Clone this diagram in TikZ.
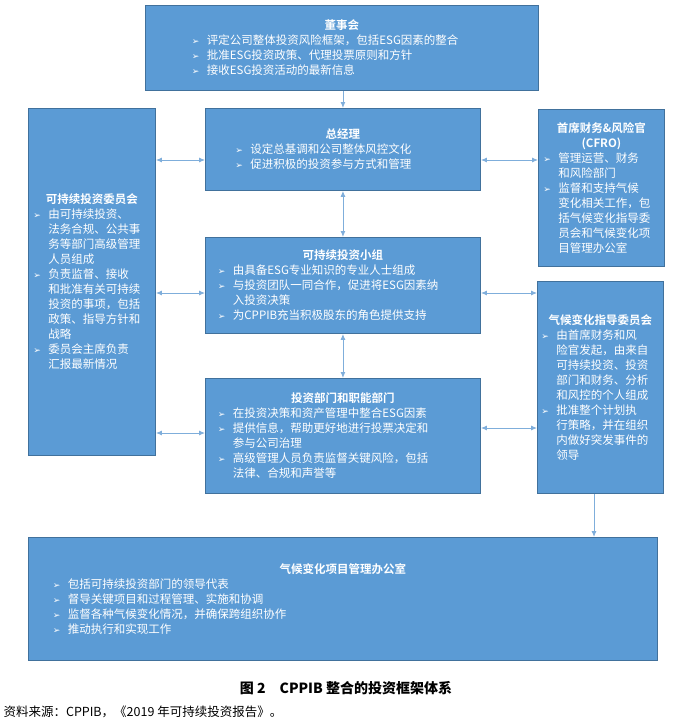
\documentclass[tikz,border=0pt]{standalone}
\usepackage{fontspec}
\setmainfont{Liberation Serif}
\newfontfamily\cjk{Noto Sans CJK SC}
\newfontfamily\cjkb{Noto Sans CJK SC Bold}
\newfontfamily\dejavu{DejaVu Sans}
\usetikzlibrary{arrows.meta}
\definecolor{boxfill}{HTML}{5B9BD5}
\definecolor{boxline}{HTML}{41719C}
\definecolor{arrline}{HTML}{7FAEDB}
\newcommand{\bul}{\makebox[1.3em][l]{\dejavu\small ➢}}
\newcommand{\ind}{\hspace*{1.3em}}
\newcommand{\ttl}[1]{\makebox[\linewidth][c]{\cjkb #1}}
\tikzset{
  box/.style={draw=boxline, line width=0.9pt, fill=boxfill, text=white, anchor=north west,
    inner sep=2pt, align=left, font=\cjk\fontsize{11.5}{15}\selectfont},
  arr/.style={draw=arrline, line width=0.9pt, {Latex[length=6pt,width=5pt]}-{Latex[length=6pt,width=5pt]}},
  arrone/.style={draw=arrline, line width=0.9pt, -{Latex[length=6pt,width=5pt]}}
}
\begin{document}
\begin{tikzpicture}[x=1pt,y=-1pt]
\useasboundingbox (0,0) rectangle (692,723);

% boxes
\node[box, minimum width=393pt, minimum height=85pt, text width=300pt] (board) at (145,5)
 {\ttl{董事会}\\
  \bul 评定公司整体投资风险框架，包括ESG因素的整合\\
  \bul 批准ESG投资政策、代理投票原则和方针\\
  \bul 接收ESG投资活动的最新信息};
\node[box, minimum width=275pt, minimum height=82pt, text width=215pt] (gm) at (205,108)
 {\ttl{总经理}\\
  \bul 设定总基调和公司整体风控文化\\
  \bul 促进积极的投资参与方式和管理};
\node[box, minimum width=127pt, minimum height=347pt, text width=117pt] (sic) at (28,108)
 {\ttl{可持续投资委员会}\\
  \bul 由可持续投资、\\
  \ind 法务合规、公共事\\
  \ind 务等部门高级管理\\
  \ind 人员组成\\
  \bul 负责监督、接收\\
  \ind 和批准有关可持续\\
  \ind 投资的事项，包括\\
  \ind 政策、指导方针和\\
  \ind 战略\\
  \bul 委员会主席负责\\
  \ind 汇报最新情况};
\node[box, minimum width=126pt, minimum height=157pt, text width=116pt] (cfro) at (538,109)
 {\ttl{首席财务\&风险官}\\
  \ttl{(CFRO)}\\
  \bul 管理运营、财务\\
  \ind 和风险部门\\
  \bul 监督和支持气候\\
  \ind 变化相关工作，包\\
  \ind 括气候变化指导委\\
  \ind 员会和气候变化项\\
  \ind 目管理办公室};
\node[box, minimum width=275pt, minimum height=96pt, text width=250pt] (team) at (205,237)
 {\ttl{可持续投资小组}\\
  \bul 由具备ESG专业知识的专业人士组成\\
  \bul 与投资团队一同合作，促进将ESG因素纳\\
  \ind 入投资决策\\
  \bul 为CPPIB充当积极股东的角色提供支持};
\node[box, minimum width=126pt, minimum height=212pt, text width=118pt] (ccsc) at (537,281)
 {\ttl{气候变化指导委员会}\\
  \bul 由首席财务和风\\
  \ind 险官发起，由来自\\
  \ind 可持续投资、投资\\
  \ind 部门和财务、分析\\
  \ind 和风控的个人组成\\
  \bul 批准整个计划执\\
  \ind 行策略，并在组织\\
  \ind 内做好突发事件的\\
  \ind 领导};
\node[box, minimum width=275pt, minimum height=115pt, text width=250pt] (dept) at (205,378)
 {\ttl{投资部门和职能部门}\\
  \bul 在投资决策和资产管理中整合ESG因素\\
  \bul 提供信息，帮助更好地进行投票决定和\\
  \ind 参与公司治理\\
  \bul 高级管理人员负责监督关键风险，包括\\
  \ind 法律、合规和声誉等};
\node[box, minimum width=629pt, minimum height=123pt, text width=580pt] (pmo) at (28,537)
 {\ttl{气候变化项目管理办公室}\\
  \bul 包括可持续投资部门的领导代表\\
  \bul 督导关键项目和过程管理、实施和协调\\
  \bul 监督各种气候变化情况，并确保跨组织协作\\
  \bul 推动执行和实现工作};

% connectors
\draw[arrone] (board.south -| gm.north) -- (gm.north);
\draw[arr] (gm.south) -- (team.north);
\draw[arr] (team.south) -- (dept.north);
\draw[arr] (sic.east |- 0,160) -- (gm.west |- 0,160);
\draw[arr] (sic.east |- 0,293) -- (team.west |- 0,293);
\draw[arr] (sic.east |- 0,433) -- (dept.west |- 0,433);
\draw[arr] (gm.east |- 0,160) -- (cfro.west |- 0,160);
\draw[arr] (team.east |- 0,293) -- (ccsc.west |- 0,293);
\draw[arr] (dept.east |- 0,428) -- (ccsc.west |- 0,428);
\draw[arrone] (ccsc.south -| 594,0) -- (pmo.north -| 594,0);

% caption
\node[font=\bfseries\cjkb\fontsize{14}{16}\selectfont] (cap) at (346,688) {图 2\quad CPPIB 整合的投资框架体系};
\node[font=\cjk\fontsize{12.5}{14}\selectfont, anchor=west] (src) at (0,712) {资料来源：CPPIB，《2019 年可持续投资报告》。};
\end{tikzpicture}
\end{document}
